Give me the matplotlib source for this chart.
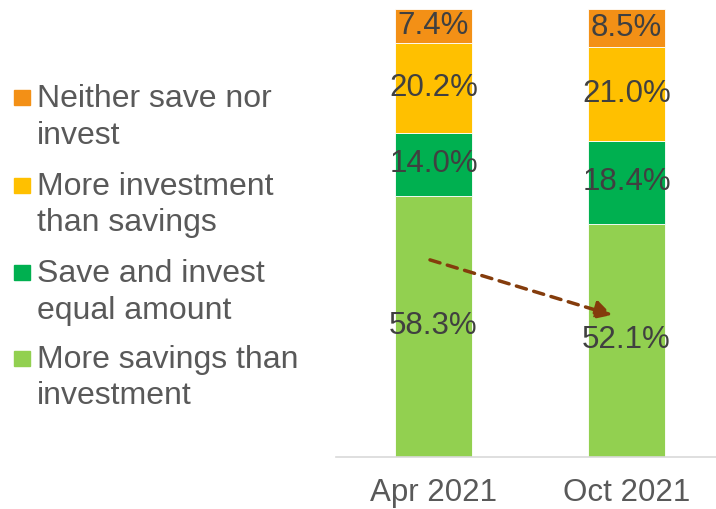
import matplotlib
matplotlib.use("Agg")
import matplotlib.pyplot as plt
from matplotlib.patches import Rectangle

plt.rcParams['font.family'] = ['Liberation Sans', 'DejaVu Sans']

categories = ["Apr 2021", "Oct 2021"]
series_names = ["More savings than\ninvestment",
                "Save and invest\nequal amount",
                "More investment\nthan savings",
                "Neither save nor\ninvest"]
more_savings = [58.3, 52.1]
save_equal = [14.0, 18.4]
more_investment = [20.2, 21.0]
neither = [7.4, 8.5]
values = [more_savings, save_equal, more_investment, neither]
colors = ["#92D050", "#00B050", "#FFC000", "#F39016"]

W, H = 716, 509
fig = plt.figure(figsize=(W / 100, H / 100), dpi=100)
ax = fig.add_axes([336 / W, 1 - 457 / H, 380 / W, (457 - 9) / H])

x = list(range(len(categories)))
bottom = [0.0] * len(categories)
for vals, col in zip(values, colors):
    bars = ax.bar(x, vals, width=0.4, bottom=bottom, color=col,
                  edgecolor="white", linewidth=0.6)
    for xi, b, v in zip(x, bottom, vals):
        ax.text(xi, b + v / 2, f"{v:.1f}%", ha="center", va="center",
                fontsize=22.5, color="#404040")
    bottom = [b + v for b, v in zip(bottom, vals)]

ax.set_xlim(-0.505, 1.464)
ax.set_ylim(0, 100)
ax.set_xticks(x)
ax.set_xticklabels(categories, fontsize=22.5, color="#595959")
ax.tick_params(axis="x", length=0, pad=15)
ax.set_yticks([])
for s in ["top", "right", "left"]:
    ax.spines[s].set_visible(False)
ax.spines["bottom"].set_color("#D9D9D9")
ax.spines["bottom"].set_linewidth(1.2)

# trend arrow between the two green segments
ax.annotate("", xy=(0.925, 31.7), xytext=(-0.018, 44.0),
            arrowprops=dict(arrowstyle="-|>,head_length=1.0,head_width=0.55",
                            color="#843C0C", lw=2.5, linestyle=(0, (3, 2.2)),
                            shrinkA=0, shrinkB=0))

# manual legend (reverse order, top to bottom)
first_baselines = [107, 195, 282, 368]
for i, (name, col) in enumerate(zip(series_names[::-1], colors[::-1])):
    base = first_baselines[i]
    fig.patches.append(Rectangle((14 / W, 1 - (base - 2) / H), 16 / W, 15 / H,
                                 transform=fig.transFigure, color=col))
    for j, line in enumerate(name.split("\n")):
        fig.text(37 / W, 1 - (base + 36.5 * j) / H, line, fontsize=23,
                 color="#595959", va="baseline", ha="left")

fig.savefig("out.png", dpi=100)
